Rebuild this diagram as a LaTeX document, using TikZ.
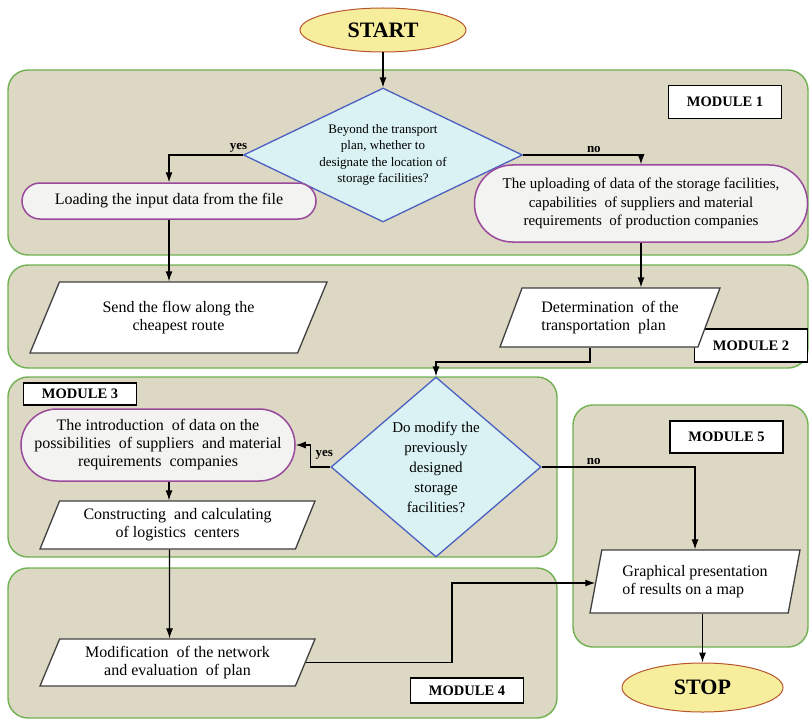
\documentclass[tikz,border=0pt]{standalone}
\usepackage{fontspec}
\setmainfont{Liberation Serif}
\usepackage{xcolor}
\definecolor{tan}{HTML}{DDD8C3}
\definecolor{leaf}{HTML}{6FB050}
\definecolor{straw}{HTML}{F6EE9C}
\definecolor{rust}{HTML}{B8552E}
\definecolor{ice}{HTML}{DAF2F3}
\definecolor{cobalt}{HTML}{4A5FC0}
\definecolor{mist}{HTML}{F3F3F1}
\definecolor{plum}{HTML}{9A4A9C}
\definecolor{slate}{HTML}{404040}
\usetikzlibrary{shapes.geometric,arrows.meta}
\tikzset{
    flow/.style={-{Latex[length=10pt,width=7pt]}, line width=1.1pt},
    module/.style={draw=leaf, fill=tan, line width=1.4pt, rounded corners=20pt},
    modlabel/.style={draw, fill=white, line width=1.2pt, inner sep=0pt, minimum width=113pt,
        font=\fontsize{14.5}{16}\selectfont\bfseries},
    terminal/.style={ellipse, draw=rust, fill=straw, line width=1pt,
        font=\fontsize{22}{24}\selectfont\bfseries},
    decision/.style={diamond, draw=cobalt, fill=ice, line width=1.3pt, inner sep=0pt, align=center},
    process/.style={rectangle, rounded corners=#1, draw=plum, fill=mist, line width=1.5pt,
        inner sep=0pt, align=center},
    io/.style={trapezium, trapezium stretches body, draw=slate, fill=white, line width=1.3pt,
        inner sep=0pt, align=center},
    el/.style={font=\fontsize{13}{14}\selectfont\bfseries, inner sep=2pt}
}
\begin{document}
\begin{tikzpicture}[x=1pt, y=-1pt, font=\fontsize{16}{18}\selectfont]
      \useasboundingbox (0,0) rectangle (810,722);

      \draw[module] (8,70) rectangle (808,255);
      \draw[module] (8,265) rectangle (808,368);
      \draw[module] (8,377) rectangle (557,557);
      \draw[module] (8,568) rectangle (557,718);
      \draw[module] (573,405) rectangle (808,647);

      \node[modlabel, minimum height=33pt] (m1) at (725,102) {MODULE 1};
      \node[modlabel, minimum height=33pt] (m2) at (751,345.5) {MODULE 2};
      \node[modlabel, minimum height=22pt] (m3) at (80,394) {MODULE 3};
      \node[modlabel, minimum height=25pt] (m4) at (467,690.5) {MODULE 4};
      \node[modlabel, minimum height=32pt] (m5) at (726.5,437) {MODULE 5};

      \node[terminal, minimum width=166pt, minimum height=44pt] (start) at (383,30) {START};
      \node[decision, shape aspect=2.08, minimum width=279pt, minimum height=134pt, font=\fontsize{13}{16.5}\selectfont]
          (q1) at (383,155) {Beyond the transport\\plan, whether to\\designate the location of\\storage facilities?};
      \node[process=18pt, minimum width=294pt, minimum height=36pt] (load) at (169,201)
          {Loading the input data from the file};
      \node[process=38pt, minimum width=333pt, minimum height=77pt, font=\fontsize{15}{18.5}\selectfont]
          (upload) at (641,203.5) {The uploading of data of the storage facilities,\\capabilities\ \ of suppliers and material\\requirements\ \ of production companies};

      \node[io, trapezium left angle=48, trapezium right angle=132, minimum width=297pt, minimum height=71pt]
          (send) at (178.5,317.5) {Send the flow along the\\cheapest route};
      \node[io, trapezium left angle=56, trapezium right angle=124, minimum width=220pt, minimum height=59pt, align=left]
          (det) at (610,317.5) {Determination\ \ of the\\transportation\ \ plan};

      \node[decision, shape aspect=1.17, minimum width=210pt, minimum height=180pt, font=\fontsize{15}{20}\selectfont]
          (q2) at (436,467) {Do modify the\\previously\\designed\\storage\\facilities?};
      \node[process=36pt, minimum width=274pt, minimum height=72pt] (intro) at (158,445)
          {The introduction\ \ of data on the\\possibilities\ \ of suppliers\ \ and material\\requirements\ \ companies};
      \node[io, trapezium left angle=59, trapezium right angle=121, minimum width=275pt, minimum height=48pt]
          (cons) at (177.5,525) {Constructing\ \ and calculating\\of logistics\ \ centers};

      \node[io, trapezium left angle=59, trapezium right angle=121, minimum width=275pt, minimum height=47pt]
          (modif) at (177.5,662.5) {Modification\ \ of the network\\and evaluation\ \ of plan};

      \node[io, trapezium left angle=70, trapezium right angle=110, minimum width=210pt, minimum height=63pt, align=left]
          (graph) at (695,581.5) {Graphical presentation\\of results on a map};
      \node[terminal, minimum width=161pt, minimum height=49pt] (stop) at (702.5,687.5) {STOP};

      \coordinate (bend) at (436,362);
      \coordinate (mbend) at (452,583);

      \path[flow] (start) edge (q1);
      \draw[flow] (q1.west) -| node[el, pos=0.03, above] {yes} (load.north);
      \draw[flow] (q1.east) -| node[el, pos=0.3, above] {no} (upload.north);
      \path[flow] (load) edge (load |- send.north);
      \path[flow] (upload) edge (upload |- det.north);
      \draw[flow] ([xshift=-20pt]det.south) |- (bend) -- (q2);
      \draw[flow] (q2.west) -- node[el, pos=0.3, above, yshift=5pt] {yes} ++(-20,0) |- (intro.east);
      \path[flow] ([xshift=11pt]intro.south) edge ([xshift=11pt]intro.south |- cons.north);
      \path[flow] ([xshift=-8pt]cons.south) edge ([xshift=-8pt]modif.north);
      \draw[flow] (modif.east) -| (mbend) -- (graph.west |- mbend);
      \draw[flow] (q2.east) -| node[el, pos=0.17, above] {no} (graph.north);
      \path[flow] (stop |- graph.south) edge (stop);
\end{tikzpicture}
\end{document}
